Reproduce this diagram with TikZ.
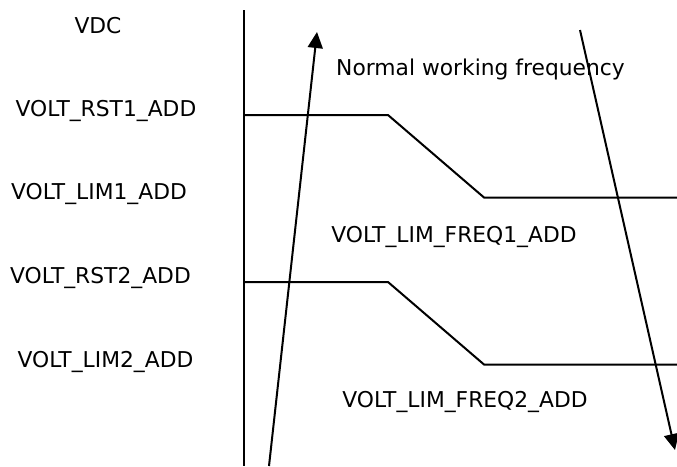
\documentclass[tikz,border=0pt]{standalone}
\usepackage{fontspec}
\setmainfont{DejaVu Sans}
\usetikzlibrary{arrows.meta}
\begin{document}
\begin{tikzpicture}[x=1pt,y=-1pt,
  lbl/.style={anchor=base,inner sep=0pt,font=\fontsize{21.8}{25}\selectfont},
  curve/.style={line width=2pt,line join=miter},
  axis/.style={line width=2pt},
  arr/.style={line width=2pt,-{Triangle[length=16pt,width=15pt]}}]
\useasboundingbox (0,0) rectangle (677,466);
% labels
\node[lbl] (vdc)  at (98,33)  {VDC};
\node[lbl] (rst1) at (106,116) {VOLT\_RST1\_ADD};
\node[lbl] (lim1) at (99,199) {VOLT\_LIM1\_ADD};
\node[lbl] (rst2) at (100.5,283) {VOLT\_RST2\_ADD};
\node[lbl] (lim2) at (105.5,367) {VOLT\_LIM2\_ADD};
\node[lbl] (nwf)  at (480.5,75) {Normal working frequency};
\node[lbl] (lf1)  at (454,242) {VOLT\_LIM\_FREQ1\_ADD};
\node[lbl] (lf2)  at (465,407) {VOLT\_LIM\_FREQ2\_ADD};
% axis
\coordinate (atop) at (244,10);
\coordinate (abot) at (244,466);
\draw[axis] (atop) -- (abot);
% curve 1
\coordinate (c1a) at (244,115);
\coordinate (c1b) at (388,115);
\coordinate (c1c) at (484,197.5);
\coordinate (c1d) at (677,197.5);
\draw[curve] (c1a) -- (c1b) -- (c1c) -- (c1d);
% curve 2
\coordinate (c2a) at (244,282);
\coordinate (c2b) at (388,282);
\coordinate (c2c) at (484,364.5);
\coordinate (c2d) at (677,364.5);
\draw[curve] (c2a) -- (c2b) -- (c2c) -- (c2d);
% arrows
\coordinate (u0) at (269,466);
\coordinate (u1) at (317,32);
\draw[arr] (u0) -- (u1);
\coordinate (d0) at (580,30);
\coordinate (d1) at (675,450);
\draw[arr] (d0) -- (d1);
\end{tikzpicture}
\end{document}
